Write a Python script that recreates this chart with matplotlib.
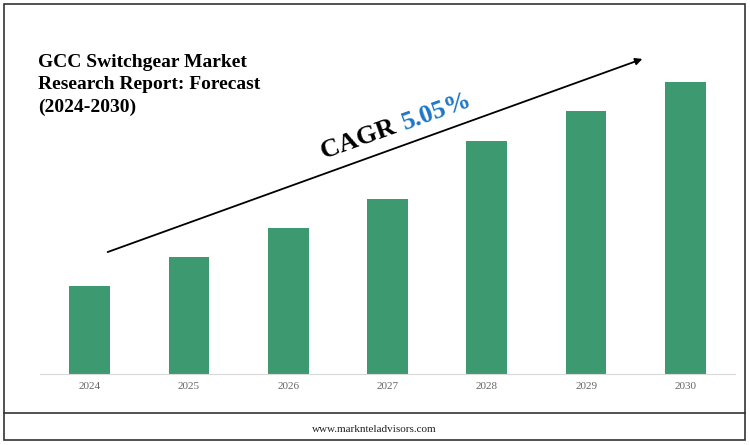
import matplotlib
matplotlib.use("Agg")
import matplotlib.pyplot as plt
from matplotlib.patches import Rectangle

years = ["2024", "2025", "2026", "2027", "2028", "2029", "2030"]
values = [88, 117, 146, 175, 233, 263, 292]

W, H = 750, 445
fig = plt.figure(figsize=(W/100, H/100), dpi=100)
serif = "Liberation Serif"

def fx(x): return x / W
def fy(y): return 1 - y / H

ax = fig.add_axes([fx(40), fy(374), fx(695), 314 / H])
ax.bar(range(len(years)), values, width=0.41, color="#3d9970")
ax.set_xlim(-0.5, 6.5)
ax.set_ylim(0, 314)
ax.set_xticks(range(len(years)))
ax.set_xticklabels(years, fontfamily=serif, fontsize=8, color="#666666")
ax.tick_params(axis="x", length=0, pad=6)
ax.set_yticks([])
for s in ["top", "right", "left"]:
    ax.spines[s].set_visible(False)
ax.spines["bottom"].set_color("#d9d9d9")
ax.patch.set_alpha(0)

# frame
fig.add_artist(Rectangle((fx(4), fy(440)), fx(741), (440-4)/H, transform=fig.transFigure,
                         fill=False, edgecolor="#333333", lw=1.2))
fig.add_artist(plt.Line2D([fx(4), fx(745)], [fy(413), fy(413)], transform=fig.transFigure,
                          color="#333333", lw=1.2))
fig.text(fx(374), fy(430), "www.marknteladvisors.com", fontfamily=serif, fontsize=8,
         ha="center", va="center", color="#222222")

fig.text(fx(38), fy(85), "GCC Switchgear Market\nResearch Report: Forecast\n(2024-2030)",
         fontfamily=serif, fontsize=14, fontweight="bold", ha="left", va="center",
         linespacing=1.38)

fig.add_artist(matplotlib.patches.FancyArrowPatch((fx(105), fy(253)), (fx(645), fy(58)),
               transform=fig.transFigure, arrowstyle="-|>", mutation_scale=10, color="black", lw=1.3))

fig.text(fx(361), fy(139), "CAGR ", fontfamily=serif, fontsize=19, fontweight="bold",
         rotation=19.8, rotation_mode="anchor", ha="center", va="center")
fig.text(fx(437), fy(112), "5.05%", fontfamily=serif, fontsize=19, fontweight="bold",
         color="#1f77c4", rotation=19.8, rotation_mode="anchor", ha="center", va="center")

fig.savefig("out.png", dpi=100)
